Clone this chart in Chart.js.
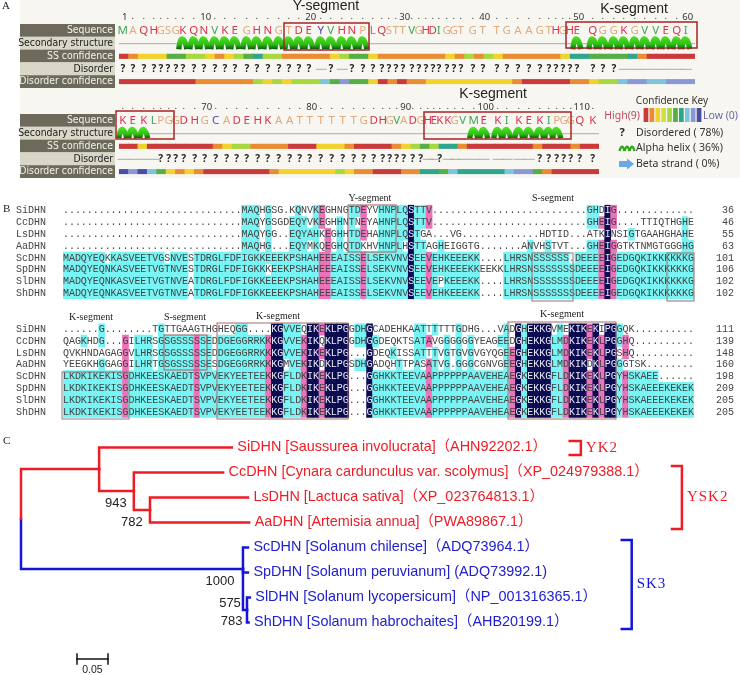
<!DOCTYPE html>
<html>
<head>
<meta charset="utf-8">
<title>DHN sequence analysis</title>
<script src="https://cdn.jsdelivr.net/npm/chart.js@4"></script>
<style>
  body { margin: 0; background: #fff; }
  #wrap { position: relative; width: 740px; height: 675px; overflow: hidden; }
  #bandA { position: absolute; left: 20px; top: 0; width: 720px; height: 178px; background: #f7f6f1; }
  canvas { position: absolute; left: 0; top: 0; }
</style>
</head>
<body>
<div id="wrap"><div id="bandA"></div></div>
<script>
// panel A data
var seqA1 = "MAQHGSGKQNVKEGHNGTDEYVHNPLQSTTVGHDIGGTGTTGAAGTHGHEQGGKGVVEQI";
var seqA2 = "KEKLPGGDHGCADEHKAATTTTTTGDHGVADGHEKKGVMEKIKEKIPGGQK";
var ssA1 = "CCCCCCCHHHHHHHHHHHHHHHHHHCCCCCCCCCCCCCCCCCCCCCCCCHHHHHHHHHHH";
var ssA2 = "HHHCCCCCCCCCCCCCCCCCCCCCCCCCCCCCCCCCCCCHHHHHHHHHCCCCC".slice(0, 37) + "CHHHHHHHHHCCCCC";
var ssConfA1 = [9,8,7,7,7,4,4,5,5,7,8,7,5,4,3,5,5,8,8,8,8,8,7,5,4,4,7,8,8,8,8,8,8,8,7,8,5,8,5,7,8,8,8,8,8,8,7,3,3,4,4,4,4,3,8,9,9,9,9,9];
var ssConfA2 = [9,9,7,9,9,9,9,9,9,9,8,7,5,5,8,8,8,8,9,9,9,7,7,7,8,9,9,9,9,8,7,5,4,5,3,3,8,9,9,9,9,9,9,9,8,9,9,9,8,9,9];
var disorderA1 = "111111111111111111110101" .concat("1".repeat(29), "0".repeat(7));
var disorderA2 = "0000" + "1".repeat(28) + "001" + "0".repeat(9) + "1111111";
var disConfA1 = [9,9,9,9,9,9,9,9,8,8,8,8,8,8,5,7,5,7,5,5,5,2,4,1,4,4,7,9,8,9,8,8,7,7,7,7,7,7,7,7,7,8,9,9,9,9,9,8,8,7,5,5,2,1,1,2,2,1,1,1];
var disConfA2 = [0,1,0,2,4,7,8,7,8,9,9,9,9,9,9,9,8,7,7,7,7,7,7,5,7,8,8,9,9,9,8,8,3,3,4,2,3,3,3,3,3,2,1,1,4,8,9,9,9,9,9];
var confLevels = [9,8,7,6,5,4,3,2,1,0];

// panel B data
var names = ["SiDHN","CcDHN","LsDHN","AaDHN","ScDHN","SpDHN","SlDHN","ShDHN"];
var blockB1 = [
  "..............................MAQHGSG.KQNVKEGHNGTDEYVHNPLQSTTV..........................GHDIG.............",
  "..............................MAQYGSGDEQYVKEGHHNTNEYAHNPLQSTTV..........................GHEIG....TTIQTHGHE",
  "..............................MAQYGG..EQYAHKEGHHTDEHAHNPLQSTGA...VG.............HDTID...ATKINSIGTGAAHGHAHE",
  "..............................MAQHG...EQYMKQEGHQTDKHVHNPLHSTTAGHEIGGTG.......ANVHSTVT...GHEIGGTKTNMGTGGGHG",
  "MADQYEQKKASVEETVGSNVESTDRGLFDFIGKKEEEKPSHAHEEEAISSELSEKVNVSEEVEHKEEEKK....LHRSNSSSSSS.DEEEEIGEDGQKIKKKKKKG",
  "MADQYEQNKASVEETVGTNVESTDRGLFDFIGKKKEEKPSHAHEEEAISSELSEKVNVSEEVEHKEEEKKEEKKLHRSNSSSSSSSDEEEEIGEDGQKIKKKKKKG",
  "MADQYEQNKASVEETVGTNVEATDRGLFDFIGKKEEEKPSHAHEEEAISSELSEKVNVSEEVEPKEEEKK....LHRSNSSSSSSSDEEEEIGEDGQKIKKKKKKG",
  "MADQYEQNKASVEETVGTNVEATDRGLFDFIGKKEEEKPSHAHEEEAISSELSEKVNVSEEVEHKEEEKK....LHRSNSSSSSSSDEEEEIGEDGQKIKKKKKKG"
];
var blockB2 = [
  "......G........TGTTGAAGTHGHEQGG....KGVVEQIKEKLPGGDHGCADEHKAATTTTTTGDHG...VADGHEKKGVMEKIKEKIPGGQK..........",
  "QAGKHDG...GILHRSGSGSSSSSEDDGEGGRRKKKGVVEKIKQKLPGGDHGGDEQKTSATAVGGGGGGYEAGEEDGHEKKGLMDKIKEKLPGGHQ..........",
  "QVKHNDAGAGGVLHRSGSGSSSSSEDDGEGGRRKKKGVVEKIKEKLPG...GDEQKISSATTTVGTGVGVGYQGEEGHEKKGLMDKIKEKLPGSHQ..........",
  "YEEGKHGGAGGILHRTGSGSSSSSESDGEGGRRKKKGMVEKIKDKLPGSDHGADQHTTPASATVG.GGGCGNVGEEGHEKKGLMDKIKDKLPGGGTSK........",
  "LKDKIKEKISGDHKEESKAEDTSVPVEKYEETEEKKGFLDKIKEKLPG...GGHKKTEEVAAPPPPPPAAVEHEAEGKEKKGFLDKIKEKLPGYHSKAEE......",
  "LKDKIKEKISGDHKEESKAEDTSVPVEKYEETEEKKGFLDKIKEKLPG...GGHKKTEEVAAPPPPPPAAVEHEAEGKEKKGFLDKIKEKLPGYHSKAEEEKEKEK",
  "LKDKIKEKISGDHKEESKAEDTSVPVEKYEETEEKKGFLDKIKEKLPG...GGHKKTEEVAAPPPPPPAAVEHEAEGKEKKGFLDKIKEKLPGYHSKAEEEKEKEK",
  "LKDKIKEKISGDHKEESKAEDTSVPVEKYEETEEKKGFLDKIKEKLPG...GGHKKTEEVAAPPPPPPAAVEHEAEGKEKKGFLDKIKEKLPGYHSKAEEEKEKEK"
];
var endB1 = [36,46,55,63,101,106,102,102];
var endB2 = [111,139,148,160,198,209,205,205];

// panel C data: tree nodes, distance in substitutions per site
var treeParent = [-1, 0, 1, 1, 3, 3, 5, 5, 0, 8, 8, 8, 11, 11];
var treeDist = [0, 0.126, 0.340, 0.182, 0.326, 0.208, 0.366, 0.368, 0.358, 0.366, 0.366, 0.3645, 0.369, 0.367];
var treeRow = [2.86, 0.86, 0, 1.74, 1, 2.5, 2, 3, 4.86, 4, 5, 6.5, 6, 7];
var tipNodes = [2, 4, 6, 7, 9, 10, 12, 13];
var tipLabels = [
  "SiDHN [Saussurea involucrata]（AHN92202.1）",
  "CcDHN [Cynara cardunculus var. scolymus]（XP_024979388.1）",
  "LsDHN [Lactuca sativa]（XP_023764813.1）",
  "AaDHN [Artemisia annua]（PWA89867.1）",
  "ScDHN [Solanum chilense]（ADQ73964.1）",
  "SpDHN [Solanum peruvianum] (ADQ73992.1)",
  "SlDHN [Solanum lycopersicum]（NP_001316365.1）",
  "ShDHN [Solanum habrochaites]（AHB20199.1）"
];
var supportNodes = [3, 5, 8, 11, 13];
var supportValues = ["943", "782", "1000", "575", "783"];
var groupNames = ["YK2", "YSK2", "SK3"];
var groupFrom = [-0.26, 0.74, 3.7];
var groupTo = [0.3, 3.26, 7.26];
var groupDist = [0.903, 1.066, 0.985];
var scaleBar = [0.0903, 0.1403];
var scaleRow = 8.46;

// layout
var stepsA1 = [10,11,10,7,7,8,7,11,10,11,10,10,12,10,11,11,10,10,10,12,10,11,10,11,10,9,7,7,7,9,7,7,7,6,8,7,7,12,10,14,10,11,11,11,9,7,7,7,7,16,10,11,10,11,10,11,10,11,9];
var stepsA2 = [10,11,10,7,8,7,8,11,10,11,11,10,10,11,10,11,11,10,10,11,11,11,11,10,10,9,7,7,7,9,8,7,6,6,8,7,8,11,10,14,9,12,10,11,9,8,7,7,9,13];
var supportDx = [-18, -18, -23, -17, -17];
var supportDy = [12, 12, 12, -7, -1];
var confColors = ["#4c4ca6","#8b98d6","#7fc4dc","#2fa68c","#57ae47","#a8d840","#cfe040","#f2d32e","#ea8c34","#cb3a3a"];
var trackLabels = ["Sequence","Secondary structure","SS confidence","Disorder","Disorder confidence"];
var RED = "#ee1c25", BLUE = "#1414dc";
var labelFont = "10.4px 'DejaVu Sans Condensed','Noto Sans'";

function addCanvas() {
  var c = document.createElement("canvas");
  c.width = 740;
  c.height = 675;
  document.getElementById("wrap").appendChild(c);
  return c;
}

// the box is the plot area in page pixels, everything else is padding
function baseOptions(box) {
  return {
    responsive: false,
    animation: false,
    events: [],
    layout: { padding: { left: box[0], top: box[1], right: 740 - box[2], bottom: 675 - box[3] } },
    plugins: { legend: { display: false }, title: { display: false }, tooltip: { enabled: false } }
  };
}

function text(ctx, str, x, y, font, color, align, spacing) {
  ctx.font = font;
  ctx.fillStyle = color;
  ctx.textAlign = align || "left";
  ctx.textBaseline = "middle";
  ctx.letterSpacing = spacing || "0px";
  ctx.fillText(str, x, y);
  ctx.letterSpacing = "0px";
}

function box(ctx, x0, y0, x1, y1, color, width) {
  ctx.strokeStyle = color;
  ctx.lineWidth = width || 1.5;
  ctx.strokeRect(x0, y0, x1 - x0, y1 - y0);
}

function residueColor(c) {
  if ("QHKNEDR".indexOf(c) >= 0) return "#d8344f";
  if ("MVLI".indexOf(c) >= 0) return "#3fa55a";
  if ("YCFW".indexOf(c) >= 0) return "#5a3fb0";
  return "#dfab7f";
}

function drawLobe(ctx, cx, cy, h) {
  var g = ctx.createLinearGradient(0, cy - h, 0, cy + h);
  g.addColorStop(0, "#4ae020");
  g.addColorStop(0.6, "#2fbc16");
  g.addColorStop(1, "#0c5a10");
  ctx.strokeStyle = g;
  ctx.lineWidth = 5.4;
  ctx.lineCap = "butt";
  ctx.beginPath();
  ctx.moveTo(cx - 4, cy + h);
  ctx.quadraticCurveTo(cx - 2.5, cy - h - 1, cx + 0.5, cy - h * 0.6);
  ctx.quadraticCurveTo(cx + 3, cy - h * 0.1, cx + 4, cy + h);
  ctx.stroke();
}

function sequenceRow(area, seq, ss, ssConf, disorder, disConf, steps, firstResidue, lobeHeight, extras) {
  var labels = [];
  for (var i = 0; i < seq.length; i++) labels.push(firstResidue + i);
  var plugin = {
    id: "seqRow",
    afterDatasetsDraw: function (chart) {
      var ctx = chart.ctx, xs = chart.scales.x, ys = chart.scales.y;
      ctx.save();
      var mid = function (t) { return ys.getPixelForValue(t + 0.5); };
      trackLabels.forEach(function (name, t) {
        var top = ys.getPixelForValue(t), bot = ys.getPixelForValue(t + 1);
        ctx.fillStyle = t % 2 == 0 ? "#6d6a5c" : "#d8d7c8";
        ctx.fillRect(20, top, 95, bot - top);
        text(ctx, name, 113, mid(t), labelFont, t % 2 == 0 ? "#f2f2ea" : "#222", "right");
      });
      // gray coil line behind the helix
      ctx.strokeStyle = "#aaa";
      ctx.lineWidth = 1;
      ctx.beginPath();
      ctx.moveTo(xs.left, mid(1) + 0.5);
      ctx.lineTo(xs.right, mid(1) + 0.5);
      ctx.stroke();
      var x = xs.getPixelForValue(0) - 1;
      for (var k = 0; k < seq.length; k++) {
        var n = firstResidue + k;
        text(ctx, seq[k], x, mid(0), "11.5px 'Noto Sans'", residueColor(seq[k]), "center");
        if (n == 1 || n % 10 == 0) {
          text(ctx, String(n), x + 2, ys.top - 7, "9.5px 'Noto Sans'", "#333", "center");
        } else {
          text(ctx, ".", x, ys.top - 8, "9.5px 'Noto Sans'", "#333", "center");
        }
        if (ss[k] == "H") drawLobe(ctx, x, mid(1), lobeHeight);
        if (disorder[k] == "1") {
          text(ctx, "?", x, mid(3), "bold 10px 'Noto Sans'", "#222", "center");
        } else {
          ctx.strokeStyle = "#aaa";
          ctx.lineWidth = 1;
          ctx.beginPath();
          ctx.moveTo(x - 5, mid(3) + 0.5);
          ctx.lineTo(x + 6, mid(3) + 0.5);
          ctx.stroke();
        }
        x += steps[k] || 0;
      }
      extras(ctx);
      ctx.restore();
    }
  };
  var options = baseOptions(area);
  options.datasets = { bar: { barPercentage: 1, categoryPercentage: 1, grouped: false } };
  options.scales = {
    x: { display: false },
    y: { display: false, min: 0, max: 5, reverse: true }
  };
  new Chart(addCanvas(), {
    type: "bar",
    data: {
      labels: labels,
      datasets: [
        { data: ssConf.map(function () { return [2.35, 2.7]; }), backgroundColor: ssConf.map(function (v) { return confColors[v]; }) },
        { data: disConf.map(function () { return [4.33, 4.67]; }), backgroundColor: disConf.map(function (v) { return confColors[v]; }) }
      ]
    },
    options: options,
    plugins: [plugin]
  });
}

function drawSmallLobe(ctx, cx, cy) {
  ctx.strokeStyle = "#2fa818";
  ctx.lineWidth = 2.4;
  ctx.beginPath();
  ctx.moveTo(cx - 2.5, cy + 3);
  ctx.quadraticCurveTo(cx, cy - 5.5, cx + 2.5, cy + 3);
  ctx.stroke();
}

sequenceRow([119, 24, 695, 88], seqA1, ssA1, ssConfA1, disorderA1, disConfA1, stepsA1, 1, 6, function (ctx) {
  text(ctx, "A", 2, 6, "11px 'Liberation Serif'", "#222");
  box(ctx, 284, 23, 369, 50, "#a82424");
  box(ctx, 566, 22, 697, 48, "#a82424");
  text(ctx, "Y-segment", 326, 6, "14px 'Liberation Sans'", "#222", "center");
  text(ctx, "K-segment", 634, 9, "14px 'Liberation Sans'", "#222", "center");
  text(ctx, "K-segment", 493, 94, "14px 'Liberation Sans'", "#222", "center");
});

sequenceRow([119, 114, 599, 178], seqA2, ssA2, ssConfA2, disorderA2, disConfA2, stepsA2, 61, 5, function (ctx) {
  var keyFont = "10.5px 'Noto Sans'";
  box(ctx, 116, 111, 174, 139, "#a82424");
  box(ctx, 424, 112, 571, 139, "#a82424");
  text(ctx, "Confidence Key", 672, 101, "10px 'Noto Sans'", "#333", "center");
  text(ctx, "High(9)", 640, 116, keyFont, "#c04a60", "right");
  text(ctx, "Low (0)", 703, 116, keyFont, "#6a6aa8");
  text(ctx, "?", 622, 133, "bold 11px 'Noto Sans'", "#222", "center");
  text(ctx, "Disordered ( 78%)", 636, 133, keyFont, "#333");
  for (var i = 0; i < 3; i++) drawSmallLobe(ctx, 622 + i * 5, 148);
  text(ctx, "Alpha helix ( 36%)", 636, 148, keyFont, "#333");
  ctx.fillStyle = "#6aa8e8";
  ctx.beginPath();
  ctx.moveTo(619, 161);
  ctx.lineTo(627, 161);
  ctx.lineTo(627, 158.5);
  ctx.lineTo(634, 164);
  ctx.lineTo(627, 169.5);
  ctx.lineTo(627, 167);
  ctx.lineTo(619, 167);
  ctx.closePath();
  ctx.fill();
  text(ctx, "Beta strand ( 0%)", 636, 164, keyFont, "#333");
});

// confidence key squares
(function () {
  var options = baseOptions([643, 108, 702, 122]);
  options.datasets = { bar: { barPercentage: 0.8, categoryPercentage: 1 } };
  options.scales = { x: { display: false }, y: { display: false, min: 0, max: 1 } };
  new Chart(addCanvas(), {
    type: "bar",
    data: {
      labels: confLevels,
      datasets: [{ data: confLevels.map(function () { return 1; }), backgroundColor: confLevels.map(function (v) { return confColors[v]; }) }]
    },
    options: options
  });
})();

// shading level of each residue, from how many sequences share it in that column
function shadeOf(rows, r, c) {
  var ch = rows[r][c];
  if (ch == ".") return "rgba(0,0,0,0)";
  var same = 0;
  rows.forEach(function (row) { if (row[c] == ch) same++; });
  if (same == 8) return "#0c0c52";
  if (same >= 6) return "#ee72ba";
  if (same >= 3) return "#78f4f4";
  return "rgba(0,0,0,0)";
}

function alignmentBlock(area, rows, ends, extras) {
  var cols = [];
  for (var c = 0; c < rows[0].length; c++) cols.push(c);
  var plugin = {
    id: "alignText",
    afterDatasetsDraw: function (chart) {
      var ctx = chart.ctx, xs = chart.scales.x, ys = chart.scales.y;
      ctx.save();
      rows.forEach(function (row, r) {
        var y = ys.getPixelForValue(r + 0.5);
        text(ctx, names[r], 16, y, "10px 'Liberation Mono'", "#444");
        for (var c = 0; c < row.length; c++) {
          var dark = shadeOf(rows, r, c) == "#0c0c52";
          text(ctx, row[c], xs.getPixelForValue(c), y, "10px 'Liberation Mono'", dark ? "#e8e8f4" : "#444", "center");
        }
        text(ctx, String(ends[r]), 734, y, "10px 'Liberation Mono'", "#444", "right");
      });
      extras(ctx);
      ctx.restore();
    }
  };
  var options = baseOptions(area);
  options.datasets = { bar: { barPercentage: 1, categoryPercentage: 1, grouped: false } };
  options.scales = {
    x: { display: false },
    y: { display: false, min: 0, max: 8, reverse: true }
  };
  new Chart(addCanvas(), {
    type: "bar",
    data: {
      labels: cols,
      datasets: rows.map(function (row, r) {
        return {
          data: cols.map(function () { return [r, r + 1]; }),
          backgroundColor: cols.map(function (c) { return shadeOf(rows, r, c); })
        };
      })
    },
    options: options,
    plugins: [plugin]
  });
}

var serifLabel = "10px 'Liberation Serif'";

alignmentBlock([63, 204.8, 694, 299.2], blockB1, endB1, function (ctx) {
  text(ctx, "B", 3, 209, "11px 'Liberation Serif'", "#222");
  text(ctx, "Y-segment", 370, 198, serifLabel, "#222", "center");
  text(ctx, "S-segment", 553, 198, serifLabel, "#222", "center");
  box(ctx, 348, 205, 396, 252, "#b05a5a", 1);
  box(ctx, 532, 253, 573, 301, "#a07070", 1);
  box(ctx, 667, 253, 694, 301, "#8a7070", 1);
});

alignmentBlock([63, 323.4, 694, 417.8], blockB2, endB2, function (ctx) {
  text(ctx, "K-segment", 91, 317, serifLabel, "#222", "center");
  text(ctx, "S-segment", 185, 317, serifLabel, "#222", "center");
  text(ctx, "K-segment", 278, 316, serifLabel, "#222", "center");
  text(ctx, "K-segment", 562, 314, serifLabel, "#222", "center");
  box(ctx, 62, 372, 129, 419, "#8c8080", 1);
  box(ctx, 164, 335, 207, 370, "#b05a5a", 1);
  box(ctx, 217, 323, 348, 419, "#a86a6a", 1);
  box(ctx, 508, 322, 616, 419, "#a86a6a", 1);
});

// panel C, the tree
(function () {
  var sets = [];
  function seg(points, color, width) {
    sets.push({
      data: points.map(function (p) { return { x: p[0], y: p[1] }; }),
      showLine: true, pointRadius: 0, clip: false,
      borderColor: color, borderWidth: width || 2.5, borderCapStyle: "square", borderJoinStyle: "miter"
    });
  }
  treeParent.forEach(function (p, i) {
    if (p < 0) return;
    var color = i < 8 ? RED : BLUE;
    seg([[treeDist[p], treeRow[p]], [treeDist[p], treeRow[i]], [treeDist[i], treeRow[i]]], color);
  });
  groupNames.forEach(function (g, i) {
    var color = i < 2 ? RED : BLUE;
    var w = i == 0 ? 0.018 : 0.016;
    seg([[groupDist[i] - w, groupFrom[i]], [groupDist[i], groupFrom[i]], [groupDist[i], groupTo[i]], [groupDist[i] - w, groupTo[i]]], color);
  });
  seg([[scaleBar[0], scaleRow], [scaleBar[1], scaleRow]], "#111", 1.5);
  seg([[scaleBar[0], scaleRow - 0.2], [scaleBar[0], scaleRow + 0.2]], "#111", 1.5);
  seg([[scaleBar[1], scaleRow - 0.2], [scaleBar[1], scaleRow + 0.2]], "#111", 1.5);

  var plugin = {
    id: "treeText",
    afterDatasetsDraw: function (chart) {
      var ctx = chart.ctx, xs = chart.scales.x, ys = chart.scales.y;
      ctx.save();
      text(ctx, "C", 3, 441, "11px 'Liberation Serif'", "#222");
      tipNodes.forEach(function (n, i) {
        text(ctx, tipLabels[i], xs.getPixelForValue(treeDist[n]) + 5.5, ys.getPixelForValue(treeRow[n]),
          "14.4px 'Liberation Sans','Noto Sans CJK SC'", i < 4 ? RED : "#2020d0");
      });
      supportNodes.forEach(function (n, i) {
        text(ctx, supportValues[i], xs.getPixelForValue(treeDist[n]) + supportDx[i], ys.getPixelForValue(treeRow[n]) + supportDy[i],
          "13px 'Liberation Sans'", "#222", "center");
      });
      groupNames.forEach(function (g, i) {
        text(ctx, g, xs.getPixelForValue(groupDist[i]) + 5, ys.getPixelForValue((groupFrom[i] + groupTo[i]) / 2),
          "15px 'Liberation Serif'", i < 2 ? RED : BLUE, "left", "1px");
      });
      text(ctx, "0.05", xs.getPixelForValue((scaleBar[0] + scaleBar[1]) / 2), 670, "10.5px 'Liberation Sans'", "#222", "center");
      ctx.restore();
    }
  };
  var options = baseOptions([21, 447.5, 703, 672.5]);
  options.scales = {
    x: { type: "linear", display: false, min: 0, max: 1.1 },
    y: { type: "linear", display: false, min: 0, max: 9, reverse: true }
  };
  new Chart(addCanvas(), { type: "scatter", data: { datasets: sets }, options: options, plugins: [plugin] });
})();
</script>
</body>
</html>
